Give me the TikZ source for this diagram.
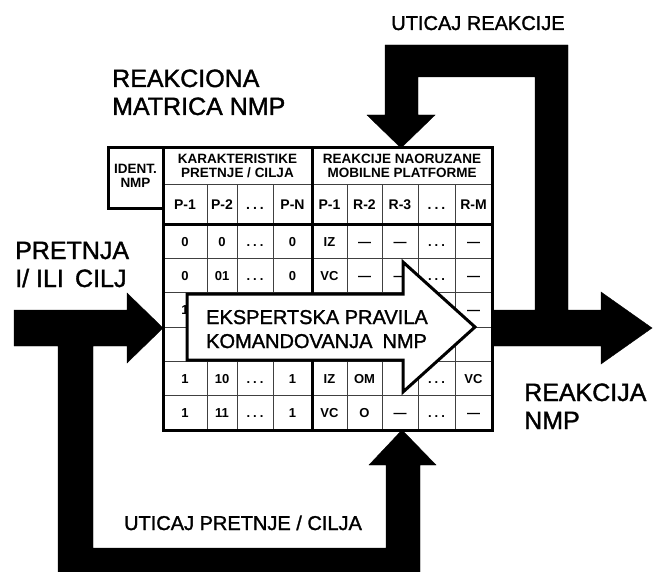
\documentclass[tikz,border=0pt]{standalone}
\usepackage{fontspec}
\setmainfont{Liberation Sans}
\newfontfamily\hvy[FakeBold=1.4]{Liberation Sans}
\begin{document}
\begin{tikzpicture}[x=1pt,y=-1pt,
  blk/.style={fill=black,draw=black,line width=0.4pt,line join=miter},
  thk/.style={line width=3pt,line cap=rect},
  thn/.style={line width=0.55pt,black!75},
  lbl/.style={font=\hvy\fontsize{25}{28}\selectfont,anchor=base west,inner sep=0pt},
  sml/.style={font=\hvy\fontsize{20}{22}\selectfont,anchor=base,inner sep=0pt},
  hdr/.style={font=\bfseries\fontsize{13.5}{14.5}\selectfont,align=center,inner sep=0pt},
  cell/.style={font=\bfseries\fontsize{13}{12}\selectfont,inner sep=0pt,anchor=base},
  bigarrow/.style={fill=white,draw=black,line width=3pt,line join=miter},
]
\useasboundingbox (0,0) rectangle (655,572);

% ---- top feedback loop with down arrow and output arrow
\fill[blk] (385,115) -- (385,45) -- (568,45) -- (568,310) -- (601,310) -- (601,292)
  -- (652,328) -- (601,364) -- (601,346) -- (492,346) -- (492,310) -- (535,310)
  -- (535,77) -- (418,77) -- (418,115) -- (435,115) -- (401,148) -- (367,115) -- cycle;

% ---- input arrow with bottom feedback loop and up arrow
\fill[blk] (14,310) -- (127,310) -- (127,293) -- (163,328) -- (127,363) -- (127,346)
  -- (93,346) -- (93,548) -- (386,548) -- (386,465) -- (369,465) -- (402,430)
  -- (436,465) -- (420,465) -- (420,572) -- (58,572) -- (58,346) -- (14,346) -- cycle;

% ---- table grid
\draw[thn] (163,184) -- (492,184);
\foreach \yy in {258.33,292.67,327,361.33,395.67}
  \draw[thn] (163,\yy) -- (492,\yy);
\foreach \xx in {207,237,273,347,382,418,455}
  \draw[thn] (\xx,184) -- (\xx,430);
\draw[thk] (163,148) rectangle (492,430);
\draw[thk] (108,148) rectangle (163,208);
\draw[thk] (312,148) -- (312,430);
\draw[thk] (163,224) -- (492,224);

% ---- headers
\node[hdr] (ident) at (135.5,176) {IDENT.\\NMP};
\node[hdr] (karakt) at (237.5,166) {KARAKTERISTIKE\\PRETNJE / CILJA};
\node[hdr] (reakc) at (402,166) {REAKCIJE NAORUZANE\\MOBILNE PLATFORME};

\def\dd{.\hspace{3pt}.\hspace{3pt}.}
\foreach \t/\xx [count=\i] in {P-1/185,P-2/222,\dd/255,P-N/292.5,P-1/329.5,R-2/364.5,R-3/400,\dd/436.5,R-M/473.5}
  \node[cell,font=\bfseries\fontsize{14}{12}\selectfont] (p\i) at (\xx,209) {\t};

% ---- data rows
\foreach \t/\xx [count=\i] in {0/185,0/222,\dd/255,0/292.5,IZ/329.5,---/364.5,---/400,\dd/436.5,---/473.5}
  \node[cell] (ra\i) at (\xx,246) {\t};
\foreach \t/\xx [count=\i] in {0/185,01/222,\dd/255,0/292.5,VC/329.5,---/364.5,---/400,\dd/436.5,---/473.5}
  \node[cell] (rb\i) at (\xx,280.3) {\t};
\node[cell] (rc1) at (185,314.6) {1};
\node[cell] (rc9) at (473.5,314.6) {---};
\foreach \t/\xx [count=\i] in {1/185,10/222,\dd/255,1/292.5,IZ/329.5,OM/364.5,\dd/436.5,VC/473.5}
  \node[cell] (re\i) at (\xx,383.3) {\t};
\foreach \t/\xx [count=\i] in {1/185,11/222,\dd/255,1/292.5,VC/329.5,O/364.5,---/400,\dd/436.5,---/473.5}
  \node[cell] (rf\i) at (\xx,417.6) {\t};

% ---- big white arrow
\draw[bigarrow] (187,294) -- (403,294) -- (403,262) -- (475,327) -- (403,392)
  -- (403,360) -- (187,360) -- cycle;
\node[font=\hvy\fontsize{20}{22}\selectfont,anchor=base west,inner sep=0pt] (ex1) at (206,324) {EKSPERTSKA PRAVILA};
\node[font=\hvy\fontsize{20}{22}\selectfont,anchor=base west,inner sep=0pt] (ex2) at (206,348) {KOMANDOVANJA\hspace{0.5em}NMP};

% ---- labels
\node[lbl] (rm1) at (112,87) {REAKCIONA};
\node[lbl] (rm2) at (112,115) {MATRICA NMP};
\node[lbl] (pr1) at (15,259) {PRETNJA};
\node[lbl] (pr2) at (15,287) {I/ ILI\hspace{0.45em}CILJ};
\node[lbl] (out1) at (524,401) {REAKCIJA};
\node[lbl] (out2) at (524,429) {NMP};
\node[sml] (ur) at (478,30) {UTICAJ REAKCIJE};
\node[sml] (up) at (243,530) {UTICAJ PRETNJE / CILJA};
\end{tikzpicture}
\end{document}
